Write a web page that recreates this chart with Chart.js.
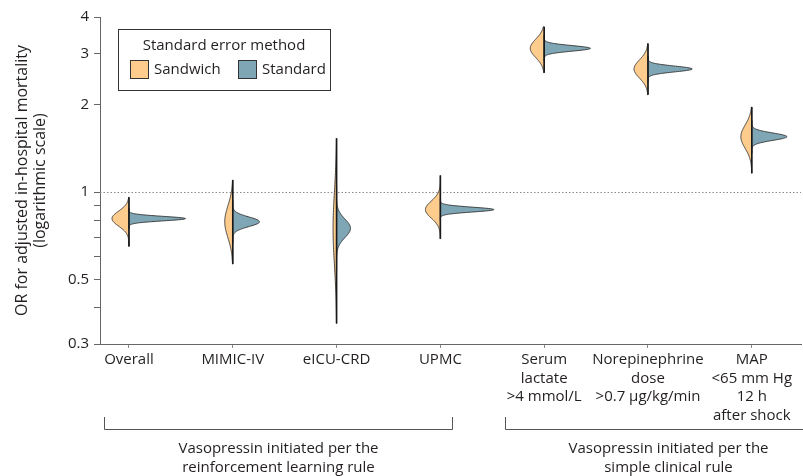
<!DOCTYPE html>
<html>
<head>
<meta charset="utf-8">
<script src="https://cdn.jsdelivr.net/npm/chart.js@4.4.1/dist/chart.umd.min.js"></script>
<style>
  html, body { margin: 0; padding: 0; background: #fff; }
  #wrap { width: 803px; height: 476px; position: relative; }
</style>
</head>
<body>
<div id="wrap"><canvas id="chart"></canvas></div>
<script>
// groups along the x axis (multi-line labels as arrays)
const groups = [
  "Overall",
  "MIMIC-IV",
  "eICU-CRD",
  "UPMC",
  ["Serum", "lactate", ">4 mmol/L"],
  ["Norepinephrine", "dose", ">0.7 μg/kg/min"],
  ["MAP", "<65 mm Hg", "12 h", "after shock"]
]

// point estimate of the odds ratio for each group
const oddsRatio = [0.81, 0.79, 0.75, 0.87, 3.12, 2.65, 1.55]
// standard errors of log(OR)
const seSandwich = [0.060, 0.127, 0.29, 0.068, 0.073, 0.073, 0.093]
const seStandard = [0.018, 0.038, 0.073, 0.019, 0.022, 0.023, 0.029]
// extent of the sandwich distribution (OR)
const rangeLow = [0.65, 0.565, 0.353, 0.69, 2.57, 2.16, 1.16]
const rangeHigh = [0.96, 1.10, 1.53, 1.14, 3.70, 3.24, 1.96]

const yTicks = [0.3, 0.4, 0.5, 0.6, 0.7, 0.8, 0.9, 1, 2, 3, 4]
const yTickLabels = ["0.3", "", "0.5", "", "", "", "", "1", "2", "3", "4"]

const seriesNames = ["Sandwich", "Standard"]
const legendTitle = "Standard error method"

const ruleGroups = [
  { from: 0, to: 3, label: ["Vasopressin initiated per the", "reinforcement learning rule"] },
  { from: 4, to: 6, label: ["Vasopressin initiated per the", "simple clinical rule"] }
]

const ORANGE = "#fecc8c"
const BLUE = "#7fa6b5"
const OUTLINE = "#333333"
const TEXT = "#231f20"
const FONT = "'Open Sans', sans-serif"

// half-width of a violin, in x-axis units per unit of density
const WIDTH_SCALE = 0.0098

function drawHalf(ctx, xs, ys, i, mu, se, lo, hi, dir, color) {
  const n = 120
  ctx.beginPath()
  ctx.moveTo(xs.getPixelForValue(i), ys.getPixelForValue(Math.exp(lo)))
  for (let k = 0; k <= n; k++) {
    const t = lo + (hi - lo) * k / n
    const z = (t - mu) / se
    const w = WIDTH_SCALE / se * Math.exp(-0.5 * z * z)
    ctx.lineTo(xs.getPixelForValue(i + dir * w), ys.getPixelForValue(Math.exp(t)))
  }
  ctx.lineTo(xs.getPixelForValue(i), ys.getPixelForValue(Math.exp(hi)))
  ctx.closePath()
  ctx.fillStyle = color
  ctx.fill()
  ctx.strokeStyle = OUTLINE
  ctx.lineWidth = 0.9
  ctx.stroke()
}

const violinPlugin = {
  id: "violins",
  beforeDatasetsDraw(chart) {
    const { ctx, chartArea, scales: { y } } = chart
    const py = Math.round(y.getPixelForValue(1)) + 0.5
    ctx.save()
    ctx.strokeStyle = "#8a8a8a"
    ctx.lineWidth = 1
    ctx.setLineDash([1.5, 2])
    ctx.beginPath()
    ctx.moveTo(chartArea.left, py)
    ctx.lineTo(chartArea.right, py)
    ctx.stroke()
    ctx.restore()
  },
  afterDatasetsDraw(chart) {
    const { ctx, scales: { x, y } } = chart
    ctx.save()
    groups.forEach((g, i) => {
      const mu = Math.log(oddsRatio[i])
      drawHalf(ctx, x, y, i, mu, seSandwich[i], Math.log(rangeLow[i]), Math.log(rangeHigh[i]), -1, ORANGE)
      drawHalf(ctx, x, y, i, mu, seStandard[i], mu - 4.5 * seStandard[i], mu + 4.5 * seStandard[i], 1, BLUE)
      const cx = x.getPixelForValue(i)
      ctx.beginPath()
      ctx.moveTo(cx, y.getPixelForValue(rangeLow[i]))
      ctx.lineTo(cx, y.getPixelForValue(rangeHigh[i]))
      ctx.strokeStyle = "#1a1a1a"
      ctx.lineWidth = 1.6
      ctx.stroke()
    })
    ctx.restore()
  },
  afterDraw(chart) {
    const { ctx, scales: { x } } = chart
    ctx.save()
    // legend box
    ctx.strokeStyle = OUTLINE
    ctx.lineWidth = 1
    ctx.strokeRect(118.5, 29.5, 212, 61)
    ctx.fillStyle = TEXT
    ctx.font = "15px " + FONT
    ctx.textAlign = "center"
    ctx.textBaseline = "middle"
    ctx.fillText(legendTitle, 224, 46)
    const swatchX = [130, 238]
    ;[ORANGE, BLUE].forEach((c, k) => {
      ctx.fillStyle = c
      ctx.fillRect(swatchX[k] + 0.5, 60.5, 18, 18)
      ctx.strokeRect(swatchX[k] + 0.5, 60.5, 18, 18)
      ctx.fillStyle = TEXT
      ctx.textAlign = "left"
      ctx.fillText(seriesNames[k], swatchX[k] + 24, 70)
    })

    // group brackets under the axis
    const pads = [[-25, 12], [-39, 79]]
    ruleGroups.forEach((r, k) => {
      const x0 = Math.round(x.getPixelForValue(r.from) + pads[k][0]) + 0.5
      const x1 = Math.round(x.getPixelForValue(r.to) + pads[k][1]) + 0.5
      ctx.strokeStyle = "#555"
      ctx.lineWidth = 1
      ctx.beginPath()
      ctx.moveTo(x0, 417)
      ctx.lineTo(x0, 429.5)
      ctx.lineTo(x1, 429.5)
      ctx.lineTo(x1, 417)
      ctx.stroke()
      ctx.fillStyle = TEXT
      ctx.textAlign = "center"
      r.label.forEach((line, j) => ctx.fillText(line, (x0 + x1) / 2, 449 + j * 18.5))
    })
    ctx.restore()
  }
}

new Chart(document.getElementById("chart"), {
  type: "scatter",
  data: {
    datasets: [{
      label: "Estimate",
      data: oddsRatio.map((v, i) => ({ x: i, y: v })),
      pointRadius: 0,
      pointHoverRadius: 0
    }]
  },
  options: {
    responsive: true,
    maintainAspectRatio: false,
    animation: false,
    events: [],
    layout: { padding: { top: 17, right: 2, left: 0, bottom: 0 } },
    plugins: { legend: { display: false }, tooltip: { enabled: false } },
    scales: {
      x: {
        type: "linear",
        min: -0.279,
        max: 6.474,
        afterFit(scale) { scale.height = 132 },
        afterBuildTicks(scale) { scale.ticks = groups.map((g, i) => ({ value: i })) },
        grid: { drawOnChartArea: false, tickLength: 4, color: "#888" },
        border: { display: true, color: "#666", width: 1 },
        ticks: {
          autoSkip: false,
          maxRotation: 0,
          padding: 3,
          color: TEXT,
          font: { size: 15, family: FONT, lineHeight: 1.23 },
          callback: (v, i) => groups[i]
        }
      },
      y: {
        type: "logarithmic",
        min: 0.3,
        max: 4,
        afterFit(scale) { scale.width = 100 },
        afterBuildTicks(scale) { scale.ticks = yTicks.map(v => ({ value: v })) },
        grid: { drawOnChartArea: false, tickLength: 6, color: "#666" },
        border: { display: true, color: "#666", width: 1 },
        ticks: {
          autoSkip: false,
          padding: 5,
          color: TEXT,
          font: { size: 15, family: FONT },
          callback: (v, i) => yTickLabels[i]
        },
        title: {
          display: true,
          text: ["OR for adjusted in-hospital mortality", "(logarithmic scale)"],
          color: TEXT,
          font: { size: 16, family: FONT, lineHeight: 1.15 },
          padding: { top: 13, bottom: 0 }
        }
      }
    }
  },
  plugins: [violinPlugin]
})
</script>
</body>
</html>
